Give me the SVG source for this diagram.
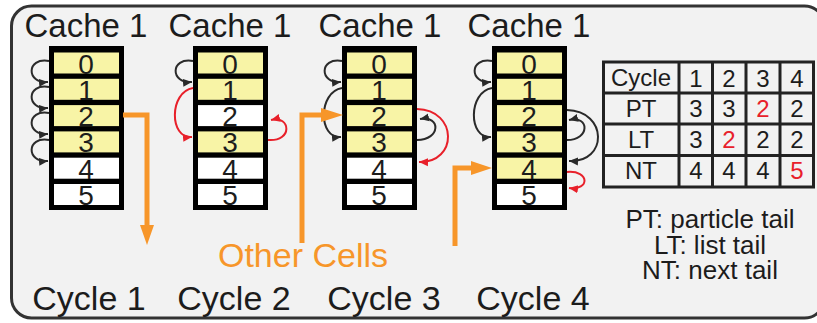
<svg xmlns="http://www.w3.org/2000/svg" width="817" height="323" viewBox="0 0 817 323">
  <style>
    .txt { font-family: "Liberation Sans", Arial, sans-serif; fill: #1c1c1c; }
    .title { font-size: 33px; text-anchor: middle; }
    .cyc { font-size: 34px; text-anchor: middle; }
    .dig { font-size: 28px; text-anchor: middle; }
    .tbl { font-size: 24px; text-anchor: middle; }
    .leg { font-size: 26px; text-anchor: middle; }
    .red { fill: #e8202a; }
    .col { fill: #000; }
    .y { fill: #f8f4a6; }
    .w { fill: #ffffff; }
    .arc { fill: none; stroke: #2a2a2a; stroke-width: 2; marker-end: url(#ahB); }
    .arcR { fill: none; stroke: #e8202a; stroke-width: 2; marker-end: url(#ahR); }
    .or { fill: none; stroke: #f7962a; stroke-width: 5; }
    .orh { fill: #f7962a; }
    .grid { fill: none; stroke: #222; stroke-width: 3; }
  </style>
  <defs>
    <marker id="ahB" markerUnits="userSpaceOnUse" markerWidth="10" markerHeight="10" refX="9" refY="5" orient="auto">
      <path d="M0,1 L9,5 L0,9 Z" fill="#2a2a2a"/>
    </marker>
    <marker id="ahR" markerUnits="userSpaceOnUse" markerWidth="10" markerHeight="10" refX="9" refY="5" orient="auto">
      <path d="M0,1 L9,5 L0,9 Z" fill="#e8202a"/>
    </marker>
  </defs>

  <!-- frame -->
  <rect x="11.5" y="6" width="813" height="312" rx="20" fill="#f2f2f2" stroke="#333" stroke-width="3"/>

  <!-- cache column, cycle 1 -->
  <g id="cache-c1">
    <text class="txt title" x="86" y="37">Cache 1</text>
    <rect class="col" x="49" y="46" width="75" height="164"/>
    <rect class="y" x="54" y="52.5" width="65" height="21"/>
    <rect class="y" x="54" y="78.8" width="65" height="21"/>
    <rect class="y" x="54" y="105.1" width="65" height="21"/>
    <rect class="y" x="54" y="131.4" width="65" height="21"/>
    <rect class="w" x="54" y="157.7" width="65" height="21"/>
    <rect class="w" x="54" y="184" width="65" height="21"/>
    <text class="txt dig" x="86" y="73.5">0</text>
    <text class="txt dig" x="86" y="99.8">1</text>
    <text class="txt dig" x="86" y="126.1">2</text>
    <text class="txt dig" x="86" y="152.4">3</text>
    <text class="txt dig" x="86" y="178.7">4</text>
    <text class="txt dig" x="86" y="205">5</text>
  </g>

  <!-- cache column, cycle 2 -->
  <g id="cache-c2">
    <text class="txt title" x="230" y="37">Cache 1</text>
    <rect class="col" x="193" y="46" width="75" height="164"/>
    <rect class="y" x="198" y="52.5" width="65" height="21"/>
    <rect class="y" x="198" y="78.8" width="65" height="21"/>
    <rect class="w" x="198" y="105.1" width="65" height="21"/>
    <rect class="y" x="198" y="131.4" width="65" height="21"/>
    <rect class="w" x="198" y="157.7" width="65" height="21"/>
    <rect class="w" x="198" y="184" width="65" height="21"/>
    <text class="txt dig" x="230" y="73.5">0</text>
    <text class="txt dig" x="230" y="99.8">1</text>
    <text class="txt dig" x="230" y="126.1">2</text>
    <text class="txt dig" x="230" y="152.4">3</text>
    <text class="txt dig" x="230" y="178.7">4</text>
    <text class="txt dig" x="230" y="205">5</text>
  </g>

  <!-- cache column, cycle 3 -->
  <g id="cache-c3">
    <text class="txt title" x="380" y="37">Cache 1</text>
    <rect class="col" x="342" y="46" width="75" height="164"/>
    <rect class="y" x="347" y="52.5" width="65" height="21"/>
    <rect class="y" x="347" y="78.8" width="65" height="21"/>
    <rect class="y" x="347" y="105.1" width="65" height="21"/>
    <rect class="y" x="347" y="131.4" width="65" height="21"/>
    <rect class="w" x="347" y="157.7" width="65" height="21"/>
    <rect class="w" x="347" y="184" width="65" height="21"/>
    <text class="txt dig" x="379" y="73.5">0</text>
    <text class="txt dig" x="379" y="99.8">1</text>
    <text class="txt dig" x="379" y="126.1">2</text>
    <text class="txt dig" x="379" y="152.4">3</text>
    <text class="txt dig" x="379" y="178.7">4</text>
    <text class="txt dig" x="379" y="205">5</text>
  </g>

  <!-- cache column, cycle 4 -->
  <g id="cache-c4">
    <text class="txt title" x="529" y="37">Cache 1</text>
    <rect class="col" x="492" y="46" width="75" height="164"/>
    <rect class="y" x="497" y="52.5" width="65" height="21"/>
    <rect class="y" x="497" y="78.8" width="65" height="21"/>
    <rect class="y" x="497" y="105.1" width="65" height="21"/>
    <rect class="y" x="497" y="131.4" width="65" height="21"/>
    <rect class="y" x="497" y="157.7" width="65" height="21"/>
    <rect class="w" x="497" y="184" width="65" height="21"/>
    <text class="txt dig" x="529" y="73.5">0</text>
    <text class="txt dig" x="529" y="99.8">1</text>
    <text class="txt dig" x="529" y="126.1">2</text>
    <text class="txt dig" x="529" y="152.4">3</text>
    <text class="txt dig" x="529" y="178.7">4</text>
    <text class="txt dig" x="529" y="205">5</text>
  </g>

  <!-- links between cells and to other cells -->
  <g id="connectors">
    <!-- cycle 1 chain -->
    <path class="arc" d="M49,61 C26,57 26,84 48,82"/>
    <path class="arc" d="M49,87 C26,83 26,110 48,108"/>
    <path class="arc" d="M49,113 C26,109 26,136 48,134"/>
    <path class="arc" d="M49,140 C26,136 26,163 48,161"/>
    <!-- cycle 2 -->
    <path class="arc" d="M193,61 C170,57 170,84 192,82"/>
    <path class="arcR" d="M193,88 C169,92 169,139 192,137"/>
    <path class="arcR" d="M268,140 C293,142 291,115 271,120"/>
    <!-- cycle 3 -->
    <path class="arc" d="M342,61 C319,57 319,84 341,82"/>
    <path class="arc" d="M342,88 C318,92 318,139 341,137"/>
    <path class="arc" d="M417,140 C441,140 441,115 420,119"/>
    <path class="arcR" d="M417,109 C458,110 458,163 419,162"/>
    <!-- cycle 4 -->
    <path class="arc" d="M492,61 C469,57 469,84 491,82"/>
    <path class="arc" d="M492,88 C468,92 468,139 491,137"/>
    <path class="arc" d="M567,140 C590,140 590,115 569,120"/>
    <path class="arc" d="M567,110 C608,111 608,163 569,161"/>
    <path class="arcR" d="M567,172 C590,170 590,191 569,188"/>
    <!-- orange links -->
    <path class="or" d="M123,115 H147 V226"/>
    <polygon class="orh" points="140,225 154,225 147,245"/>
    <path class="or" d="M302,243 V115 H323"/>
    <polygon class="orh" points="321,108 321,122 343,115"/>
    <path class="or" d="M455,246 V168 H473"/>
    <polygon class="orh" points="471,161 471,175 492,168"/>
  </g>

  <text id="other-cells" x="303" y="267" font-family="Liberation Sans, Arial, sans-serif" font-size="34" fill="#f7962a" text-anchor="middle">Other Cells</text>

  <g id="cycle-labels">
    <text class="txt cyc" x="89" y="310">Cycle 1</text>
    <text class="txt cyc" x="234" y="310">Cycle 2</text>
    <text class="txt cyc" x="384" y="310">Cycle 3</text>
    <text class="txt cyc" x="533" y="310">Cycle 4</text>
  </g>

  <!-- tail pointer table -->
  <g id="table">
    <rect x="603.5" y="62" width="210" height="125" fill="#f2f2f2" class="grid"/>
    <path class="grid" d="M679,62 V187 M712.5,62 V187 M746,62 V187 M780,62 V187 M603,93 H814 M603,124 H814 M603,155.5 H814"/>
    <text class="txt tbl" x="641" y="86">Cycle</text>
    <text class="txt tbl" x="696" y="87">1</text>
    <text class="txt tbl" x="729" y="87">2</text>
    <text class="txt tbl" x="763" y="87">3</text>
    <text class="txt tbl" x="797" y="87">4</text>
    <text class="txt tbl" x="641" y="117">PT</text>
    <text class="txt tbl" x="696" y="117">3</text>
    <text class="txt tbl" x="729" y="117">3</text>
    <text class="txt tbl red" x="763" y="117">2</text>
    <text class="txt tbl" x="797" y="117">2</text>
    <text class="txt tbl" x="641" y="148">LT</text>
    <text class="txt tbl" x="696" y="148">3</text>
    <text class="txt tbl red" x="729" y="148">2</text>
    <text class="txt tbl" x="763" y="148">2</text>
    <text class="txt tbl" x="797" y="148">2</text>
    <text class="txt tbl" x="641" y="179">NT</text>
    <text class="txt tbl" x="696" y="179">4</text>
    <text class="txt tbl" x="729" y="179">4</text>
    <text class="txt tbl" x="763" y="179">4</text>
    <text class="txt tbl red" x="797" y="179">5</text>
  </g>

  <g id="legend">
    <text class="txt leg" x="710" y="228">PT: particle tail</text>
    <text class="txt leg" x="710" y="254">LT: list tail</text>
    <text class="txt leg" x="710" y="279">NT: next tail</text>
  </g>
</svg>
